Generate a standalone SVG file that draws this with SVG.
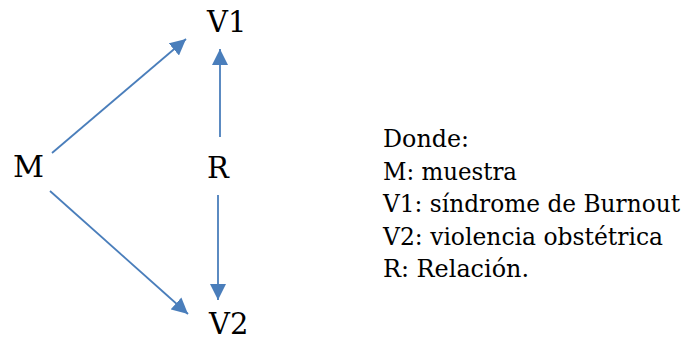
<svg xmlns="http://www.w3.org/2000/svg" width="684" height="340" viewBox="0 0 684 340">
<style>
text{font-family:'DejaVu Serif','Noto Serif','Liberation Serif',serif;fill:#000}
.lbl{font-size:29px}
.leg{font-size:23.5px}
.arr{stroke:#4a7ebb;stroke-width:1.8;fill:none;marker-end:url(#ah)}
</style>
<defs>
<marker id="ah" markerUnits="userSpaceOnUse" markerWidth="16" markerHeight="16" refX="16" refY="8" orient="auto" viewBox="0 0 16 16">
<path d="M0,0 L16,8 L0,16 z" fill="#4a7ebb"/>
</marker>
</defs>
<rect width="684" height="340" fill="#fff"/>
<g id="connectors">
<line class="arr" x1="52" y1="153" x2="186" y2="39"/>
<line class="arr" x1="220" y1="137" x2="220" y2="49"/>
<line class="arr" x1="218" y1="195" x2="218" y2="300"/>
<line class="arr" x1="50" y1="191" x2="188" y2="314"/>
</g>
<g id="node-M"><text class="lbl" x="13" y="177" textLength="31" lengthAdjust="spacingAndGlyphs">M</text></g>
<g id="node-V1"><text class="lbl" x="207" y="32">V1</text></g>
<g id="node-R"><text class="lbl" x="207" y="178">R</text></g>
<g id="node-V2"><text class="lbl" x="209" y="334">V2</text></g>
<g id="legend">
<text class="leg" x="383" y="147" textLength="86" lengthAdjust="spacingAndGlyphs">Donde:</text>
<text class="leg" x="383" y="179.5" textLength="134" lengthAdjust="spacingAndGlyphs">M: muestra</text>
<text class="leg" x="383" y="212" textLength="297" lengthAdjust="spacingAndGlyphs">V1: síndrome de Burnout</text>
<text class="leg" x="383" y="244.5" textLength="280" lengthAdjust="spacingAndGlyphs">V2: violencia obstétrica</text>
<text class="leg" x="383" y="277" textLength="146" lengthAdjust="spacingAndGlyphs">R: Relación.</text>
</g>
</svg>
